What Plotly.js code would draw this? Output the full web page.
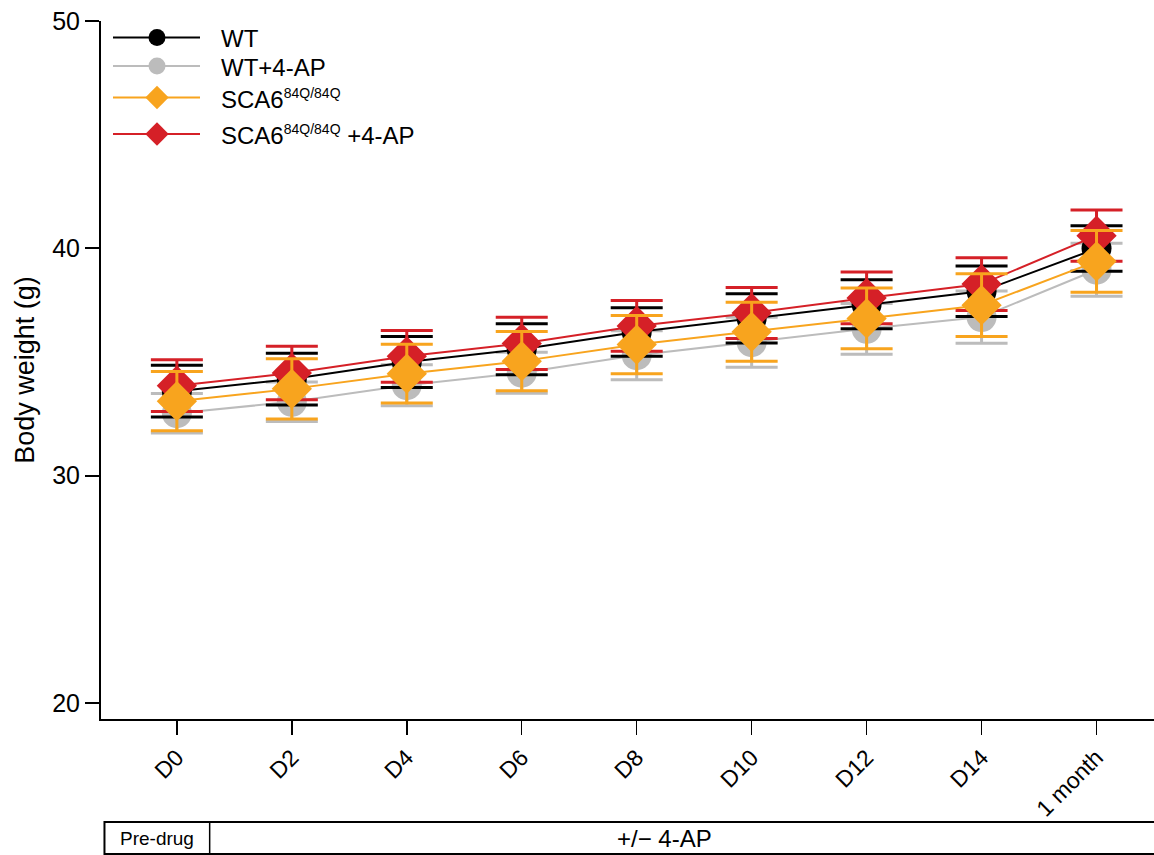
<!DOCTYPE html>
<html>
<head>
<meta charset="utf-8">
<script src="https://cdn.plot.ly/plotly-3.0.1.min.js"></script>
<style>html,body{margin:0;padding:0;background:#fff;}#chart{width:1154px;height:855px;}</style>
</head>
<body>
<div id="chart"></div>
<script>
// ---- data ----
const categories = ["D0","D2","D4","D6","D8","D10","D12","D14","1 month"];
const wtMean      = [33.72,34.25,35.00,35.56,36.32,36.92,37.54,38.11,39.99];
const wtErr       = [1.14,1.14,1.12,1.12,1.07,1.08,1.08,1.11,1.00];
const wtApMean    = [32.75,33.25,33.98,34.53,35.30,35.87,36.46,36.98,39.06];
const wtApErr     = [0.87,0.87,0.90,0.90,1.08,1.10,1.12,1.15,1.17];
const scaMean     = [33.28,33.82,34.49,35.04,35.77,36.33,36.92,37.50,39.43];
const scaErr      = [1.30,1.32,1.29,1.30,1.28,1.30,1.34,1.38,1.36];
const scaApMean   = [33.96,34.52,35.25,35.82,36.59,37.16,37.82,38.43,40.56];
const scaApErr    = [1.14,1.18,1.14,1.15,1.12,1.12,1.14,1.16,1.13];
const yTicks = [20,30,40,50];
const SUP = '<sup><span style="font-size:14px">84Q/84Q</span></sup>';
const legendLabels = ["WT","WT+4-AP","SCA6" + SUP,"SCA6" + SUP + " +4-AP"];
const phaseLabels = ["Pre-drug","+/\u2212 4-AP"];

const C_BLACK = "#000000", C_GRAY = "#bcbcbc", C_ORANGE = "#f8a41e", C_RED = "#d52027";
const FONT = "Liberation Sans, Arial, Helvetica, sans-serif";

function series(y, err, color, symbol, size) {
  return {
    type: "scatter", mode: "lines+markers",
    x: categories, y: y,
    line: {color: color, width: 2},
    marker: {color: color, symbol: symbol, size: size, line: {width: 0}},
    error_y: {type: "data", array: err, visible: true, color: color, thickness: 3, width: 26},
    showlegend: false, hoverinfo: "skip"
  };
}

const traces = [
  series(wtApMean, wtApErr, C_GRAY, "circle", 30),
  series(wtMean, wtErr, C_BLACK, "circle", 30),
  series(scaApMean, scaApErr, C_RED, "diamond", 31),
  series(scaMean, scaErr, C_ORANGE, "diamond", 31)
];

// ---- custom legend (pixel coords relative to plot area via overlay axes) ----
const legendRows = [
  {color: C_BLACK, symbol: "circle", size: 17, y: 16.5},
  {color: C_GRAY, symbol: "circle", size: 17, y: 45},
  {color: C_ORANGE, symbol: "diamond", size: 18, y: 76.5},
  {color: C_RED, symbol: "diamond", size: 18, y: 113}
];
const annotations = [];
legendRows.forEach((r, i) => {
  traces.push({type: "scatter", mode: "lines", x: [12, 99], y: [r.y, r.y], xaxis: "x2", yaxis: "y2",
    line: {color: r.color, width: 2}, showlegend: false, hoverinfo: "skip"});
  traces.push({type: "scatter", mode: "markers", x: [56], y: [r.y], xaxis: "x2", yaxis: "y2",
    marker: {color: r.color, symbol: r.symbol, size: r.size, line: {width: 0}}, showlegend: false, hoverinfo: "skip"});
  annotations.push({xref: "x2", yref: "y2", x: 118, y: r.y + 1, text: legendLabels[i], showarrow: false,
    xanchor: "left", yanchor: "middle", font: {family: FONT, size: 24, color: "#000"}});
});

// phase box
const boxTop = -0.1476, boxBot = -0.1934;
const shapes = [
  {type: "rect", xref: "paper", yref: "paper", x0: 0.0033, x1: 1.02, y0: boxBot, y1: boxTop,
   line: {color: "#000", width: 2}, fillcolor: "rgba(0,0,0,0)"},
  {type: "line", xref: "paper", yref: "paper", x0: 0.1032, x1: 0.1032, y0: boxBot, y1: boxTop,
   line: {color: "#000", width: 1.5}}
];
annotations.push({xref: "paper", yref: "paper", x: 0.0532, y: (boxTop + boxBot) / 2, text: phaseLabels[0],
  showarrow: false, xanchor: "center", yanchor: "middle", font: {family: FONT, size: 19, color: "#000"}});
annotations.push({xref: "paper", yref: "paper", x: 0.5356, y: (boxTop + boxBot) / 2, text: phaseLabels[1],
  showarrow: false, xanchor: "center", yanchor: "middle", font: {family: FONT, size: 24, color: "#000"}});

const layout = {
  width: 1154, height: 855,
  margin: {l: 101, r: 0, t: 21, b: 136, pad: 0},
  paper_bgcolor: "#fff", plot_bgcolor: "#fff",
  showlegend: false,
  font: {family: FONT, color: "#000"},
  xaxis: {
    type: "category", categoryorder: "array", categoryarray: categories,
    range: [-0.66, 8.5], showgrid: false, zeroline: false,
    showline: true, linecolor: "#000", linewidth: 2,
    ticks: "outside", ticklen: 14, tickwidth: 1.5, tickcolor: "#000",
    tickangle: -45, tickfont: {family: FONT, size: 23, color: "#000"}, fixedrange: true
  },
  yaxis: {
    range: [19.3, 50], tickvals: yTicks, showgrid: false, zeroline: false,
    showline: true, linecolor: "#000", linewidth: 2,
    ticks: "outside", ticklen: 14, tickwidth: 2, tickcolor: "#000",
    tickfont: {family: FONT, size: 25, color: "#000"},
    title: {text: "Body weight (g)", font: {family: FONT, size: 27, color: "#000"}, standoff: 10},
    fixedrange: true
  },
  xaxis2: {overlaying: "x", range: [0, 1053], visible: false, anchor: "y2", fixedrange: true},
  yaxis2: {overlaying: "y", range: [698, 0], visible: false, anchor: "x2", fixedrange: true},
  shapes: shapes,
  annotations: annotations
};

Plotly.newPlot("chart", traces, layout, {displayModeBar: false, staticPlot: true});
</script>
</body>
</html>
